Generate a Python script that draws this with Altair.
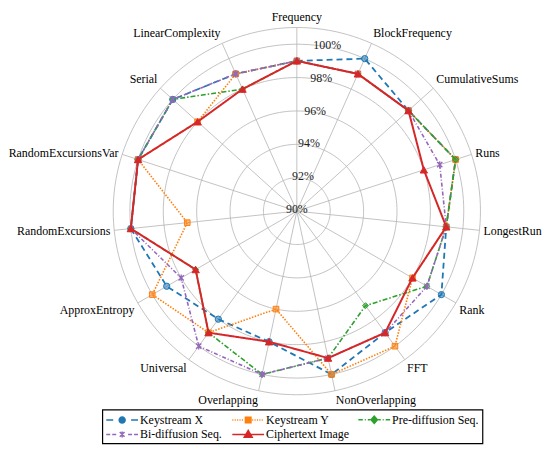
import altair as alt
import pandas as pd
import numpy as np

# ---------------- data ----------------
categories = ["Frequency", "BlockFrequency", "CumulativeSums", "Runs", "LongestRun",
              "Rank", "FFT", "NonOverlapping", "Overlapping", "Universal",
              "ApproxEntropy", "RandomExcursions", "RandomExcursionsVar", "Serial",
              "LinearComplexity"]
series_names = ["Keystream X", "Keystream Y", "Pre-diffusion Seq.", "Bi-diffusion Seq.",
                "Ciphertext Image"]
keystream_x = [99, 100, 99, 100, 99, 100, 99, 100, 98, 98, 99, 100, 100, 100, 99]
keystream_y = [99, 99, 99, 100, 99, 98, 100, 100, 96, 99, 100, 96.6, 100, 98, 99]
pre_diffusion = [99, 99, 99, 100, 99, 99, 97, 99, 100, 99, 97, 100, 100, 100, 98]
bi_diffusion = [99, 99, 99, 99, 99, 99, 99, 99, 100, 100, 98, 100, 100, 100, 99]
ciphertext = [99, 99, 99, 98, 99, 98, 99, 99, 98, 99, 97, 100, 100, 98, 98]
ring_values = [92, 94, 96, 98, 100, 101]
tick_values = [90, 92, 94, 96, 98, 100]
r_min, r_max = 90, 101

series_values = [keystream_x, keystream_y, pre_diffusion, bi_diffusion, ciphertext]
N = len(categories)

# ---------------- styles ----------------
colors = ["#1f77b4", "#ff7f0e", "#2ca02c", "#9467bd", "#d62728"]
dashes = [[6, 4], [1.5, 1.5], [5, 2, 1.5, 2], [4, 2, 1, 2], [1, 0]]
widths = [1.8, 1.6, 1.6, 1.6, 2.0]
asterisk = "M-1,-1L1,1M-1,1L1,-1M0,-1.3L0,1.3"
shapes = ["circle", "square", "diamond", asterisk, "triangle-up"]
sizes = [40, 32, 36, 28, 55]
FONT = "Liberation Serif, Times New Roman, DejaVu Serif, serif"

# legend symbol geometry: designed in px around the wanted symbol centre
SYM_BOX = 12          # legend symbolSize = SYM_BOX**2
HALF_W = 16           # wanted half-width of the drawn legend symbol (px)
SHIFT = HALF_W - SYM_BOX / 2
UNIT = SYM_BOX / 2


def P(x, y):
    return f"{(x + SHIFT) / UNIT:.3f},{y / UNIT:.3f}"


def seg(a, b):
    return f"M{P(a, 0)}L{P(b, 0)}"


def dotted(a, b, step=2.4, ln=1.1):
    out, x = "", a
    while x + ln <= b + 1e-9:
        out += seg(x, x + ln)
        x += step
    return out


def poly(pts):
    return "M" + "L".join(P(x, y) for x, y in pts) + "Z"


def circle(r, n=16):
    return poly([(r * np.cos(2 * np.pi * t / n), r * np.sin(2 * np.pi * t / n))
                 for t in range(n)])


legend_paths = [
    seg(-16, -9) + seg(9, 16) + circle(3.0),
    dotted(-16, -4) + dotted(4, 16) + poly([(-2.8, -2.8), (2.8, -2.8), (2.8, 2.8), (-2.8, 2.8)]),
    seg(-16, -11.5) + seg(-9.5, -8.5) + seg(-6.5, -4) + seg(4, 6.5) + seg(8.5, 9.5)
    + seg(11.5, 16) + poly([(0, -3.6), (3.2, 0), (0, 3.6), (-3.2, 0)]),
    seg(-16, -12) + seg(-10, -6) + seg(6, 10) + seg(12, 16)
    + f"M{P(-2.4, -2.4)}L{P(2.4, 2.4)}M{P(-2.4, 2.4)}L{P(2.4, -2.4)}M{P(0, -3)}L{P(0, 3)}",
    seg(-16, 16) + poly([(0, -4), (4, 2.8), (-4, 2.8)]),
]

# ---------------- tables ----------------
rows = []
for name, vals in zip(series_names, series_values):
    for i, v in enumerate(vals + [vals[0]]):
        rows.append({"series": name, "idx": i, "value": v})
df = pd.DataFrame(rows)

cat_df = pd.DataFrame({"cat": categories, "idx": list(range(N))})
ring_df = pd.DataFrame([{"ring": r, "deg": d} for r in ring_values
                        for d in np.arange(0, 361, 2)])
tick_df = pd.DataFrame({"tick": tick_values})

# ---------------- geometry ----------------
W, H = 534, 433
CX, CY = 289, 196
K = 185 / (r_max - r_min)
xs = alt.Scale(domain=[-CX / K, (W - CX) / K], nice=False, zero=False)
ys = alt.Scale(domain=[-(H - CY) / K, CY / K], nice=False, zero=False)
X = lambda f: alt.X(f"{f}:Q", scale=xs, axis=None)
Y = lambda f: alt.Y(f"{f}:Q", scale=ys, axis=None)
ANG = f"datum.idx * 2 * PI / {N}"

rings = alt.Chart(ring_df).transform_calculate(
    a="datum.deg * PI / 180", u=f"datum.ring - {r_min}"
).transform_calculate(
    x="datum.u * sin(datum.a)", y="datum.u * cos(datum.a)"
).mark_line(color="#b3b3b3", strokeWidth=0.8).encode(
    x=X("x"), y=Y("y"), detail="ring:N", order="deg:Q")

spokes = alt.Chart(cat_df).transform_calculate(
    a=ANG, x0="0", y0="0"
).transform_calculate(
    x1=f"{r_max - r_min} * sin(datum.a)", y1=f"{r_max - r_min} * cos(datum.a)"
).mark_rule(color="#b3b3b3", strokeWidth=0.8).encode(
    x=X("x0"), y=Y("y0"), x2="x1:Q", y2="y1:Q")

ticks = alt.Chart(tick_df).transform_calculate(
    a="10.5 * PI / 180", u=f"datum.tick - {r_min}", label="datum.tick + '%'"
).transform_calculate(
    x="datum.u * sin(datum.a)", y="datum.u * cos(datum.a)"
).mark_text(font=FONT, fontSize=12, color="#222222", align="center",
            baseline="middle", dy=-2).encode(x=X("x"), y=Y("y"), text="label:N")

label_u = (r_max - r_min) + 4 / K
cat_base = alt.Chart(cat_df).transform_calculate(a=ANG).transform_calculate(
    x=f"{label_u} * sin(datum.a)", y=f"{label_u} * cos(datum.a)",
    al="sin(datum.a) > 0.01 ? 'left' : (sin(datum.a) < -0.01 ? 'right' : 'center')",
    bl="cos(datum.a) > 0.4 ? 'bottom' : (cos(datum.a) < -0.4 ? 'top' : 'middle')",
)
cat_layers = []
for al in ["left", "center", "right"]:
    for bl in ["top", "middle", "bottom"]:
        cat_layers.append(
            cat_base.transform_filter(f"datum.al == '{al}' && datum.bl == '{bl}'")
            .mark_text(font=FONT, fontSize=12, color="black", align=al, baseline=bl)
            .encode(x=X("x"), y=Y("y"), text="cat:N"))

series_base = alt.Chart(df).transform_calculate(
    a=ANG, u=f"datum.value - {r_min}"
).transform_calculate(
    x="datum.u * sin(datum.a)", y="datum.u * cos(datum.a)")

series_layers = []
for k, name in enumerate(series_names):
    sb = series_base.transform_filter(f"datum.series == '{name}'")
    line = sb.mark_line(color=colors[k], strokeWidth=widths[k],
                        strokeDash=dashes[k]).encode(x=X("x"), y=Y("y"), order="idx:Q")
    if k == 3:
        pt = sb.transform_filter(f"datum.idx < {N}").mark_point(
            shape=shapes[k], size=sizes[k], filled=False, color=colors[k],
            strokeWidth=1.3, opacity=1).encode(x=X("x"), y=Y("y"))
    else:
        pt = sb.transform_filter(f"datum.idx < {N}").mark_point(
            shape=shapes[k], size=sizes[k], filled=True, color=colors[k],
            stroke=colors[k], strokeWidth=1, opacity=1,
            fillOpacity=1 if k == 4 else 0.55).encode(x=X("x"), y=Y("y"))
    series_layers += [line, pt]

leg = alt.Legend(title=None, orient="none", legendX=93, legendY=396, columns=3,
                 direction="horizontal",
                 gridAlign="all", columnPadding=2, rowPadding=0, padding=3,
                 symbolSize=SYM_BOX ** 2, symbolStrokeWidth=1.5, labelFont=FONT,
                 labelFontSize=12, labelColor="black",
                 labelOffset=int(2 * HALF_W - SYM_BOX + 1),
                 strokeColor="black", symbolOpacity=1)
legend_layer = alt.Chart(df).transform_filter("datum.idx < 0").mark_point(
    filled=True, opacity=1, strokeWidth=1.5
).encode(
    fill=alt.Fill("series:N", scale=alt.Scale(domain=series_names, range=colors),
                  legend=leg),
    stroke=alt.Stroke("series:N", scale=alt.Scale(domain=series_names, range=colors),
                      legend=leg),
    shape=alt.Shape("series:N", scale=alt.Scale(domain=series_names, range=legend_paths),
                    legend=leg),
)

chart = alt.layer(rings, spokes, *series_layers, ticks, *cat_layers, legend_layer).properties(
    width=W, height=H, padding=0, background="white"
).configure_view(stroke=None).configure_legend(strokeWidth=1.2)

chart.save("out.html", embed_options={"renderer": "svg", "actions": False})
